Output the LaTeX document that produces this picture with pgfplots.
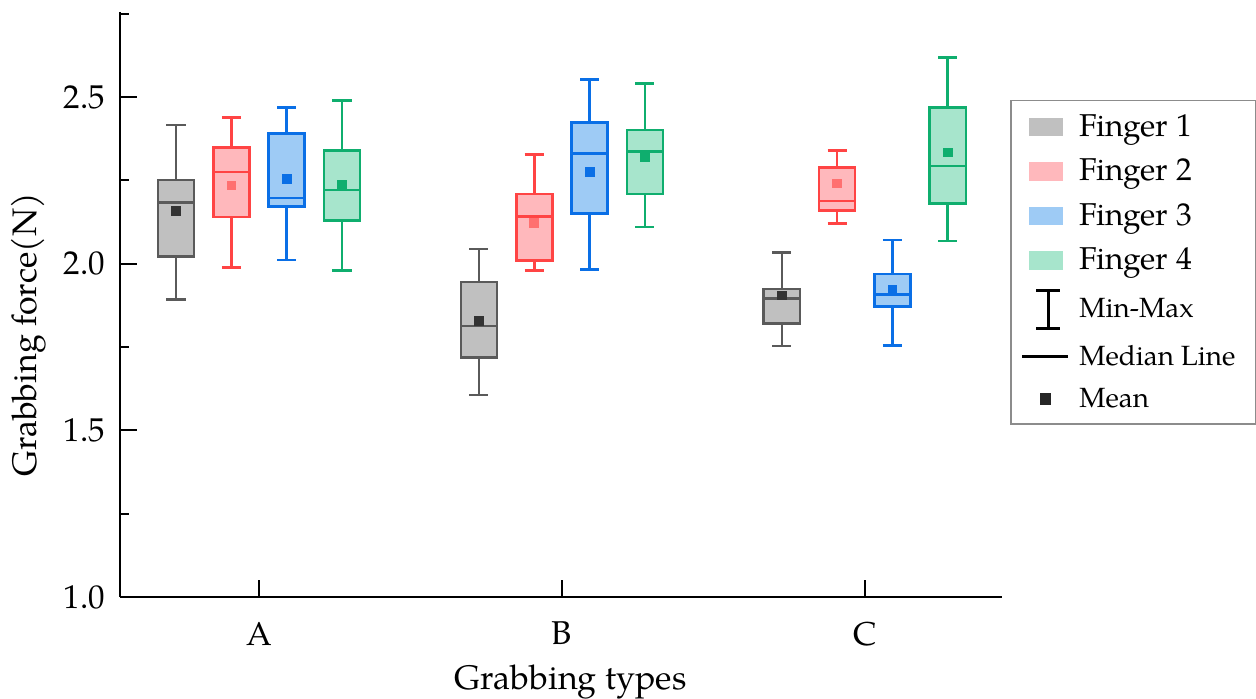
\documentclass[border=0pt]{standalone}
\usepackage{pgfplots}
\pgfplotsset{compat=1.18}
\usepgfplotslibrary{statistics}
\usepackage{fontspec}
\setmainfont{TeX Gyre Pagella}
\definecolor{e1}{HTML}{5A5A5A}\definecolor{f1}{HTML}{C0C0C0}\definecolor{m1}{HTML}{333333}
\definecolor{e2}{HTML}{FF4444}\definecolor{f2}{HTML}{FFB8BC}\definecolor{m2}{HTML}{FF7070}
\definecolor{e3}{HTML}{0A6FE6}\definecolor{f3}{HTML}{9ECBF5}\definecolor{m3}{HTML}{0A6FE6}
\definecolor{e4}{HTML}{0FAE6E}\definecolor{f4}{HTML}{A7E5CC}\definecolor{m4}{HTML}{0FAE6E}
\pgfplotsset{
  bx/.style n args={6}{forget plot, line width=1.3pt, boxplot/draw direction=y, boxplot prepared={draw position=#1, lower whisker=#2, lower quartile=#3, median=#4, upper quartile=#5, upper whisker=#6, box extend=0.119, whisker extend=0.063}},
  patch/.style={legend image code/.code={\fill[#1] (0pt,-4.3pt) rectangle (16pt,4.3pt);}},
}
\begin{document}
\begin{tikzpicture}
\useasboundingbox (-60pt,-51pt) rectangle (568pt,298.5pt);
\begin{axis}[
  at={(0,0)}, anchor=south west,
  width=441pt, height=292.5pt, scale only axis,
  xmin=0.541, xmax=3.453, ymin=1, ymax=2.755,
  axis lines*=left, axis line style={line width=1.2pt},
  tick align=inside, tick style={line width=1pt, black},
  major tick length=8.5pt, minor tick length=4.5pt,
  xtick={1,2,3}, xticklabels={A,B,C},
  ytick={1,1.5,2,2.5}, minor ytick={1.25,1.75,2.25,2.75},
  yticklabel style={/pgf/number format/fixed, /pgf/number format/fixed zerofill, /pgf/number format/precision=1, font=\fontsize{16.5}{19}\selectfont, xshift=-4pt},
  xticklabel style={font=\fontsize{16.5}{19}\selectfont, yshift=-9pt},
  /pgf/number format/assume math mode=true,
  xlabel={Grabbing types}, ylabel={Grabbing force(N)},
  xlabel style={font=\fontsize{17}{20}\selectfont, at={(axis description cs:0.511,-0.145)}, anchor=center},
  ylabel style={font=\fontsize{17}{20}\selectfont, at={(axis description cs:-0.104,0.448)}, anchor=center},
  clip=false,
  legend style={at={(axis description cs:1.009,0.85)}, anchor=north west, draw=black!45, line width=0.8pt,
    font=\fontsize{15.8}{18}\selectfont, row sep=5.8pt, inner xsep=5pt, inner ysep=5pt,
    nodes={inner xsep=5pt}, /tikz/every even column/.style={column sep=9pt}},
  legend cell align=left,
]
% A
\addplot[bx={0.726}{1.893}{2.021}{2.184}{2.251}{2.416}, draw=e1, fill=f1] coordinates {};
\addplot[bx={0.9086}{1.989}{2.140}{2.275}{2.349}{2.439}, draw=e2, fill=f2] coordinates {};
\addplot[bx={1.0914}{2.011}{2.171}{2.197}{2.391}{2.469}, draw=e3, fill=f3] coordinates {};
\addplot[bx={1.274}{1.979}{2.130}{2.221}{2.340}{2.490}, draw=e4, fill=f4] coordinates {};
% B
\addplot[bx={1.726}{1.606}{1.719}{1.813}{1.945}{2.044}, draw=e1, fill=f1] coordinates {};
\addplot[bx={1.9086}{1.979}{2.009}{2.141}{2.209}{2.328}, draw=e2, fill=f2] coordinates {};
\addplot[bx={2.0914}{1.983}{2.151}{2.331}{2.423}{2.553}, draw=e3, fill=f3] coordinates {};
\addplot[bx={2.274}{2.110}{2.209}{2.336}{2.401}{2.541}, draw=e4, fill=f4] coordinates {};
% C
\addplot[bx={2.726}{1.753}{1.821}{1.896}{1.924}{2.034}, draw=e1, fill=f1] coordinates {};
\addplot[bx={2.9086}{2.120}{2.159}{2.188}{2.289}{2.340}, draw=e2, fill=f2] coordinates {};
\addplot[bx={3.0914}{1.755}{1.871}{1.908}{1.969}{2.071}, draw=e3, fill=f3] coordinates {};
\addplot[bx={3.274}{2.068}{2.181}{2.293}{2.469}{2.618}, draw=e4, fill=f4] coordinates {};
% means
\addplot[forget plot, only marks, mark=square*, mark size=2.2pt, color=m1] coordinates {(0.726,2.158) (1.726,1.828) (2.726,1.905)};
\addplot[forget plot, only marks, mark=square*, mark size=2.2pt, color=m2] coordinates {(0.9086,2.235) (1.9086,2.123) (2.9086,2.241)};
\addplot[forget plot, only marks, mark=square*, mark size=2.2pt, color=m3] coordinates {(1.0914,2.254) (2.0914,2.275) (3.0914,1.923)};
\addplot[forget plot, only marks, mark=square*, mark size=2.2pt, color=m4] coordinates {(1.274,2.236) (2.274,2.321) (3.274,2.334)};
% legend
\addlegendimage{patch=f1}
\addlegendentry{Finger 1}
\addlegendimage{patch=f2}
\addlegendentry{Finger 2}
\addlegendimage{patch=f3}
\addlegendentry{Finger 3}
\addlegendimage{patch=f4}
\addlegendentry{Finger 4}
\addlegendimage{legend image code/.code={\draw[black, line width=1.5pt] (9pt,-9.5pt) -- (9pt,9.5pt) (3pt,-9.5pt) -- (15pt,-9.5pt) (3pt,9.5pt) -- (15pt,9.5pt);}}
\addlegendentry{\fontsize{13.9}{16}\selectfont Min-Max}
\addlegendimage{legend image code/.code={\draw[black, line width=1.3pt] (-4pt,0pt) -- (19pt,0pt);}}
\addlegendentry{\fontsize{13.9}{16}\selectfont Median Line}
\addlegendimage{legend image code/.code={\fill[black!85] (5.5pt,-2.4pt) rectangle (10.3pt,2.4pt);}}
\addlegendentry{\fontsize{13.9}{16}\selectfont Mean}
\end{axis}
\end{tikzpicture}
\end{document}
